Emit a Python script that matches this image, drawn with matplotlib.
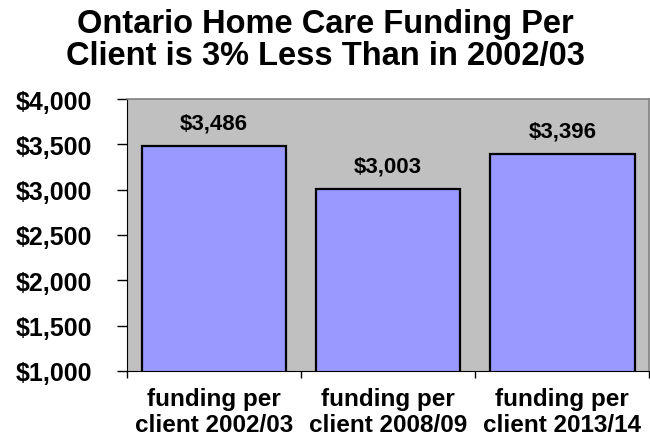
import matplotlib
matplotlib.use("Agg")
import matplotlib.pyplot as plt
from matplotlib.ticker import FuncFormatter, FixedLocator

# ── Data ──────────────────────────────────────────────────────────────────────
categories = ["funding per\nclient 2002/03", "funding per\nclient 2008/09", "funding per\nclient 2013/14"]
funding = [3486, 3003, 3396]
y_ticks = [1000, 1500, 2000, 2500, 3000, 3500, 4000]

plt.rcParams["font.family"] = ["Liberation Sans", "DejaVu Sans"]
plt.rcParams["font.weight"] = "bold"

fig = plt.figure(figsize=(6.5, 4.39), dpi=100)
ax = fig.add_axes([0.195, 0.153, 0.804, 0.619])
ax.set_facecolor("#C0C0C0")

x = list(range(len(categories)))
bars = ax.bar(x, funding, width=0.83, color="#9999FF", edgecolor="black", linewidth=1.6, zorder=2)

for xi, v in zip(x, funding):
    ax.annotate(f"${v:,}", (xi, v), xytext=(0, 9), textcoords="offset points",
                ha="center", va="bottom", fontsize=16, fontweight="bold")

ax.set_xlim(-0.5, len(categories) - 0.5)
ax.set_ylim(y_ticks[0], y_ticks[-1])
ax.set_yticks(y_ticks)
ax.yaxis.set_major_formatter(FuncFormatter(lambda v, p: f"${v:,.0f}"))
ax.tick_params(axis="y", labelsize=18, length=7, width=1, pad=18, direction="out")

ax.set_xticks(x)
ax.set_xticklabels(categories, fontsize=17.5, fontweight="bold", linespacing=1.12)
ax.xaxis.set_minor_locator(FixedLocator([i - 0.5 for i in range(len(categories) + 1)]))
ax.tick_params(axis="x", which="major", length=0, pad=12)
ax.tick_params(axis="x", which="minor", length=5, width=1, direction="out")

for side in ["top", "right"]:
    ax.spines[side].set_color("#808080")
    ax.spines[side].set_linewidth(1.2)
ax.spines["left"].set_color("black")
ax.spines["bottom"].set_color("black")

fig.text(0.5, 0.98, "Ontario Home Care Funding Per\nClient is 3% Less Than in 2002/03",
         ha="center", va="top", fontsize=23.5, fontweight="bold", linespacing=1.05)

fig.savefig("out.png", dpi=100)
